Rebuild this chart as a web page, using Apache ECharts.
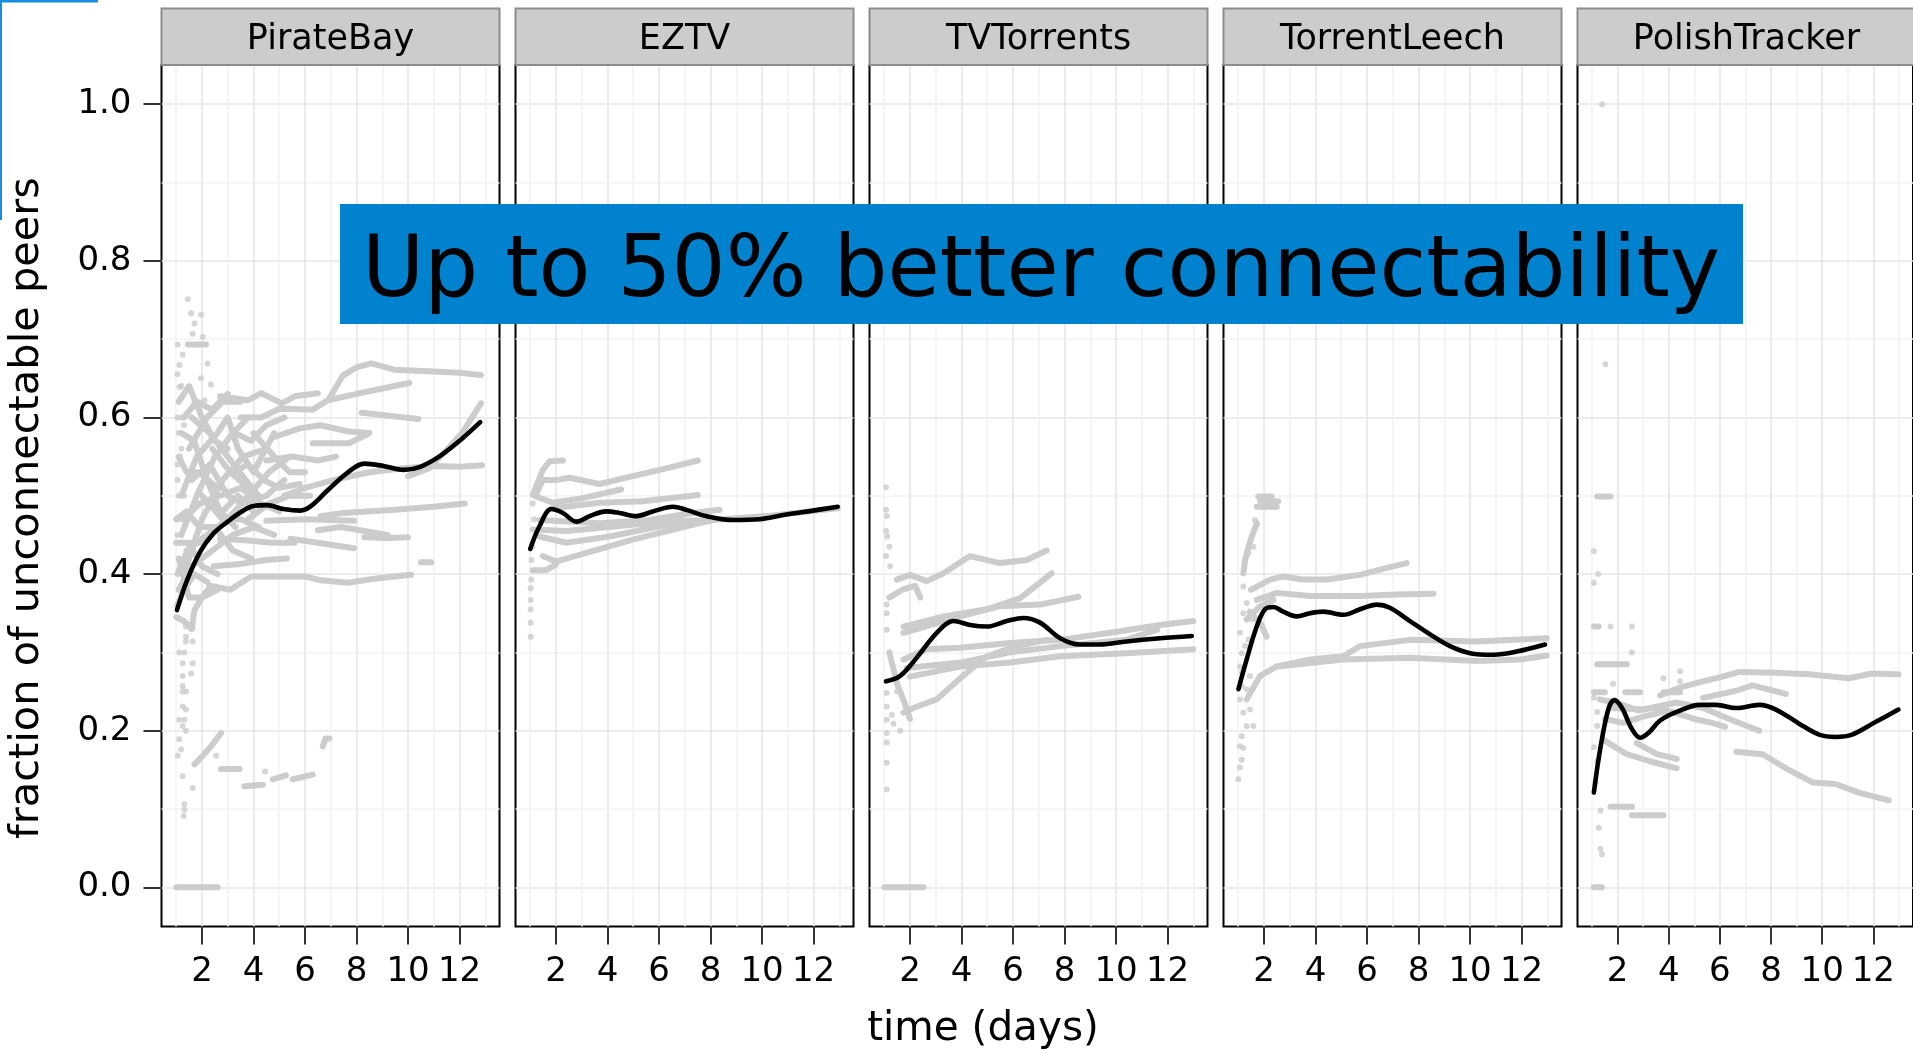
<!DOCTYPE html>
<html><head><meta charset="utf-8">
<script src="https://cdn.jsdelivr.net/npm/echarts@6/dist/echarts.min.js"></script>
<style>html,body{margin:0;padding:0;background:#fff;overflow:hidden}#c{width:1913px;height:1054px}</style>
</head><body><div id="c"></div>
<script>
// ---------- labels / ticks ----------
const panelNames = ['PirateBay', 'EZTV', 'TVTorrents', 'TorrentLeech', 'PolishTracker'];
const xTickValues = [2, 4, 6, 8, 10, 12];
const xMinorValues = [1, 3, 5, 7, 9, 11, 13];
const yTickValues = [0, 0.2, 0.4, 0.6, 0.8, 1.0];
const yMinorValues = [0.1, 0.3, 0.5, 0.7, 0.9];
const xRange = [0.43, 13.55];
const yRange = [-0.05, 1.05];
const xTitle = 'time (days)';
const yTitle = 'fraction of unconnectable peers';
const bannerText = 'Up to 50% better connectability';

// ---------- PirateBay ----------
const pbTrend = [[1.03,0.354],[1.42,0.392],[1.94,0.429],[2.45,0.452],[3.0,0.467],[3.5,0.479],[4.0,0.487],[4.52,0.488],[5.17,0.483],[5.82,0.481],[6.2,0.486],[6.85,0.506],[7.63,0.529],[8.3,0.541],[9.05,0.538],[9.83,0.533],[10.47,0.537],[11.25,0.551],[12.03,0.571],[12.8,0.594]];
const pbStreaks = [
  [[6.9,0.622],[7.46,0.653],[8.0,0.664],[8.57,0.669],[9.47,0.661],[10.76,0.659],[12.0,0.657],[12.83,0.654]],
  [[6.3,0.61],[6.88,0.622],[8.0,0.63],[9.0,0.637],[10.05,0.644]],
  [[8.2,0.606],[9.0,0.603],[10.4,0.598]],
  [[6.3,0.567],[7.1,0.567],[7.7,0.567],[8.4,0.578]],
  [[5.2,0.5],[6.0,0.51],[7.1,0.52],[8.5,0.53],[9.8,0.535],[11.0,0.538],[12.0,0.537],[12.87,0.539]],
  [[10.0,0.525],[10.8,0.535],[11.4,0.555],[12.1,0.58],[12.83,0.618]],
  [[6.6,0.474],[7.5,0.478],[9.5,0.482],[11.0,0.486],[12.2,0.49]],
  [[4.5,0.468],[6.0,0.47],[7.9,0.468]],
  [[5.43,0.445],[6.5,0.44],[7.9,0.433]],
  [[8.3,0.447],[9.2,0.446],[10.0,0.447]],
  [[2.7,0.445],[3.8,0.443],[4.7,0.44],[5.6,0.44]],
  [[2.45,0.41],[3.5,0.413],[4.5,0.418],[5.3,0.42]],
  [[2.3,0.385],[3.1,0.38],[3.91,0.397],[5.0,0.397],[5.98,0.397],[6.62,0.392],[7.66,0.389],[8.69,0.394],[10.12,0.399]],
  [[10.5,0.415],[10.9,0.415]],
  [[4.8,0.575],[5.8,0.586],[6.6,0.59],[7.7,0.582],[8.5,0.58]],
  [[4.5,0.545],[5.5,0.55],[6.5,0.545],[7.2,0.55]],
  [[3.5,0.6],[4.3,0.6],[5.0,0.611],[6.2,0.61]],
  [[2.7,0.627],[3.8,0.622],[4.3,0.631],[5.1,0.618],[5.6,0.627],[6.5,0.631]],
  [[6.5,0.456],[7.4,0.46],[8.3,0.455],[9.2,0.45]],
  [[1.2,0.45],[1.8,0.5],[2.5,0.55],[3.2,0.58],[3.8,0.6]],
  [[1.3,0.4],[2.0,0.47],[2.8,0.52],[3.6,0.55],[4.5,0.56]],
  [[1.5,0.56],[2.2,0.6],[2.8,0.62],[3.5,0.62]],
  [[1.6,0.52],[2.3,0.54],[3.0,0.5],[3.6,0.49],[4.5,0.5],[5.2,0.52]],
  [[1.4,0.43],[2.2,0.45],[3.0,0.47],[3.8,0.5],[4.6,0.53],[5.4,0.55]],
  [[1.2,0.5],[1.8,0.55],[2.6,0.58],[3.0,0.6],[3.4,0.56],[4.0,0.53],[4.8,0.58]],
  [[1.6,0.6],[2.3,0.58],[3.0,0.55],[3.7,0.52],[4.2,0.5]],
  [[1.1,0.38],[1.6,0.41],[2.4,0.43],[3.2,0.45],[4.0,0.46],[4.8,0.45]],
  [[1.3,0.47],[1.9,0.49],[2.7,0.5],[3.5,0.51],[4.3,0.49],[5.0,0.48]],
  [[2.0,0.5],[2.8,0.47],[3.5,0.47],[4.2,0.46]],
  [[2.4,0.56],[3.1,0.53],[3.8,0.51]],
  [[1.1,0.42],[1.5,0.37],[2.0,0.37],[2.6,0.38]],
  [[1.1,0.62],[1.5,0.64],[2.0,0.6],[2.5,0.57],[3.0,0.56]],
  [[1.2,0.58],[1.7,0.57],[2.2,0.52],[2.7,0.48],[3.3,0.46]],
  [[1.0,0.47],[1.4,0.48],[1.9,0.46],[2.5,0.46],[3.2,0.43],[3.9,0.42]],
  [[1.0,0.44],[1.5,0.44],[2.0,0.41],[2.6,0.4]],
  [[1.1,0.55],[1.4,0.53],[1.9,0.53],[2.6,0.51]],
  [[1.3,0.6],[1.8,0.62],[2.4,0.61],[3.0,0.63]],
  [[3.3,0.58],[3.9,0.57],[4.5,0.59],[5.2,0.6]],
  [[3.2,0.53],[3.8,0.54],[4.4,0.52],[5.0,0.51],[5.8,0.515]],
  [[2.2,0.49],[2.8,0.48],[3.4,0.5],[4.0,0.48]],
  [[4.0,0.58],[4.8,0.55],[5.4,0.53],[6.0,0.53]],
  [[3.8,0.47],[4.6,0.49],[5.4,0.5],[6.2,0.5]],
  [[1.05,0.4],[1.3,0.42],[1.6,0.44],[1.9,0.44]],
  [[1.05,0.36],[1.3,0.38],[1.7,0.4],[2.2,0.39]],
  [[1.0,0.345],[1.3,0.34],[1.6,0.33]],
  [[1.6,0.33],[1.71,0.354],[2.0,0.37],[2.35,0.385]],
  [[1.45,0.693],[2.16,0.693]],
  [[1.71,0.157],[2.03,0.168],[2.35,0.18],[2.74,0.197]],
  [[2.74,0.151],[3.46,0.151]],
  [[3.65,0.129],[4.0,0.13],[4.36,0.131]],
  [[4.75,0.138],[5.26,0.143]],
  [[5.52,0.138],[6.3,0.144]],
  [[6.69,0.18],[6.8,0.19],[6.95,0.19]],
  [[1.0,0],[2.61,0]]
];
const pbDots = [[1.45,0.751],[1.58,0.733],[1.97,0.731],[1.71,0.72],[1.64,0.707],[2.03,0.703],[1.06,0.693],[1.13,0.667],[2.22,0.669],[1.96,0.65],[2.35,0.642],[1.13,0.639],[1.19,0.625],[1.71,0.618],[2.1,0.622],[1.2,0.6],[1.1,0.58],[1.15,0.55],[1.05,0.52],[1.1,0.5],
  [1.05,0.36],[1.1,0.38],[1.2,0.41],[1.05,0.45],[1.15,0.47],[1.3,0.5],[1.05,0.54],[1.2,0.56],[1.3,0.59],[1.05,0.6],[1.2,0.64],[1.05,0.655],[1.25,0.68],
  [1.06,0.344],[1.38,0.333],[1.38,0.32],[1.64,0.314],[1.12,0.3],[1.32,0.3],[1.25,0.286],[1.64,0.286],[1.25,0.27],[1.58,0.273],[1.25,0.257],[1.25,0.25],[1.38,0.25],[1.25,0.231],[1.38,0.227],[1.12,0.214],[1.32,0.214],[1.25,0.206],[1.38,0.2],[1.12,0.189],[1.19,0.176],[1.06,0.168],[1.25,0.142],[1.64,0.127],[1.32,0.106],[1.32,0.099],[1.29,0.091],[2.55,0.168],[4.45,0.148],[1.64,0.331],[1.38,0.314]];

// ---------- EZTV ----------
const ezTrend = [[1.0,0.432],[1.36,0.461],[1.82,0.483],[2.27,0.478],[2.79,0.467],[3.31,0.474],[3.95,0.48],[4.47,0.478],[5.12,0.474],[5.76,0.48],[6.54,0.486],[7.06,0.482],[7.83,0.474],[8.87,0.469],[9.9,0.47],[10.94,0.476],[11.97,0.481],[12.94,0.486]];
const ezStreaks = [
  [[1.1,0.501],[1.49,0.533],[1.75,0.544],[2.27,0.545]],
  [[1.2,0.5],[1.49,0.52],[2.0,0.52],[2.53,0.523],[3.69,0.515],[4.98,0.525],[6.28,0.535],[7.51,0.545]],
  [[1.23,0.499],[1.88,0.491],[3.04,0.497],[4.53,0.508]],
  [[1.88,0.484],[3.69,0.491],[5.37,0.493],[7.51,0.501]],
  [[1.36,0.469],[3.69,0.465],[5.63,0.469],[7.31,0.478],[8.35,0.482]],
  [[1.1,0.457],[2.4,0.455],[4.34,0.461],[6.28,0.467],[8.1,0.469],[10.16,0.474],[12.94,0.484]],
  [[1.36,0.448],[2.4,0.44],[4.08,0.448],[6.02,0.461],[8.1,0.469]],
  [[1.49,0.423],[2.0,0.416],[3.18,0.427],[4.98,0.444],[7.05,0.461],[8.1,0.469]],
  [[1.1,0.405],[1.62,0.405],[2.0,0.412]]
];
const ezDots = [[1.04,0.393],[1.02,0.382],[1.02,0.367],[1.02,0.355],[1.02,0.338],[1.02,0.32],[1.05,0.418],[1.08,0.435],[1.15,0.47],[1.1,0.49],[1.3,0.51]];

// ---------- TVTorrents ----------
const tvTrend = [[1.07,0.263],[1.62,0.27],[2.26,0.293],[3.04,0.325],[3.69,0.34],[4.33,0.335],[4.98,0.333],[5.76,0.34],[6.4,0.344],[7.05,0.338],[7.83,0.318],[8.6,0.31],[9.38,0.31],[10.41,0.314],[11.71,0.318],[12.94,0.321]];
const tvStreaks = [
  [[1.49,0.393],[2.0,0.399],[2.65,0.391],[3.3,0.401],[4.33,0.423],[5.5,0.414],[6.53,0.418],[7.31,0.43]],
  [[1.2,0.37],[1.7,0.38],[2.2,0.385],[2.4,0.37]],
  [[1.75,0.333],[3.3,0.346],[4.98,0.355],[6.27,0.369],[7.5,0.401]],
  [[1.75,0.325],[3.95,0.346],[5.5,0.359],[7.05,0.361],[8.54,0.371]],
  [[1.75,0.291],[2.65,0.304],[3.95,0.306],[5.89,0.312],[7.83,0.316],[9.77,0.325],[11.71,0.335],[13.0,0.34]],
  [[1.88,0.28],[3.95,0.287],[5.89,0.3],[7.83,0.308],[10.4,0.316],[11.6,0.329]],
  [[2.0,0.269],[3.95,0.282],[5.89,0.287],[7.83,0.295],[10.4,0.299],[13.0,0.304]],
  [[1.75,0.223],[2.13,0.229],[3.04,0.24],[3.95,0.267],[4.98,0.295],[6.15,0.308],[7.31,0.316]],
  [[1.2,0.3],[1.5,0.26],[1.8,0.235],[2.0,0.215]],
  [[1.01,0],[2.53,0]]
];
const tvDots = [[1.07,0.511],[1.07,0.482],[1.1,0.474],[1.07,0.455],[1.12,0.448],[1.2,0.435],[1.07,0.423],[1.23,0.41],[1.1,0.361],[1.1,0.35],[1.1,0.329],[1.1,0.248],[1.1,0.231],[1.1,0.214],[1.1,0.185],[1.1,0.159],[1.1,0.125],[1.36,0.209],[1.62,0.2],[1.1,0.197],[1.3,0.22],[1.5,0.25]];

// ---------- TorrentLeech ----------
const tlTrend = [[1.01,0.253],[1.33,0.291],[1.72,0.333],[2.04,0.355],[2.37,0.358],[2.75,0.352],[3.27,0.346],[3.79,0.35],[4.31,0.352],[5.08,0.348],[5.73,0.355],[6.38,0.361],[6.89,0.357],[7.67,0.34],[8.45,0.323],[9.22,0.308],[10.0,0.299],[10.91,0.297],[11.81,0.301],[12.91,0.31]];
const tlStreaks = [
  [[1.78,0.499],[2.3,0.499]],
  [[1.85,0.493],[2.55,0.493]],
  [[1.72,0.486],[2.5,0.486]],
  [[1.72,0.465],[1.53,0.448],[1.4,0.435],[1.27,0.418],[1.2,0.401]],
  [[1.5,0.38],[2.24,0.393],[2.76,0.397],[3.5,0.393],[4.44,0.393],[5.73,0.399],[6.77,0.408],[7.54,0.414]],
  [[1.72,0.367],[2.5,0.376],[3.79,0.372],[5.73,0.372],[7.15,0.374],[8.58,0.375]],
  [[1.33,0.24],[1.85,0.27],[2.5,0.282],[3.79,0.291],[5.08,0.295],[5.73,0.308],[7.67,0.316],[10.26,0.314],[12.98,0.318]],
  [[2.5,0.282],[5.08,0.291],[7.67,0.293],[10.26,0.289],[11.94,0.291],[12.98,0.296]],
  [[1.33,0.342],[1.85,0.359],[2.37,0.367]],
  [[1.45,0.352],[1.9,0.335],[2.1,0.32]]
];
const tlDots = [[1.01,0.138],[1.07,0.153],[1.14,0.163],[1.07,0.18],[1.2,0.178],[1.14,0.193],[1.33,0.206],[1.59,0.206],[1.2,0.223],[1.07,0.24],[1.14,0.257],[1.14,0.274],[1.07,0.282],[1.14,0.299],[1.07,0.325],[1.2,0.384],[1.27,0.416],[1.4,0.427],[1.59,0.435],[1.72,0.463],[1.65,0.469],[1.46,0.227],[1.33,0.253],[1.46,0.27],[1.27,0.308],[1.4,0.316],[1.53,0.342],[1.2,0.35],[1.33,0.363]];

// ---------- PolishTracker ----------
const ptTrend = [[1.07,0.121],[1.33,0.179],[1.65,0.229],[1.87,0.239],[2.17,0.229],[2.56,0.202],[2.88,0.191],[3.2,0.197],[3.66,0.213],[4.31,0.224],[5.21,0.233],[5.86,0.233],[6.64,0.229],[7.54,0.233],[8.19,0.227],[9.1,0.209],[9.88,0.195],[10.52,0.192],[11.17,0.195],[12.08,0.211],[12.98,0.227]];
const ptStreaks = [
  [[3.66,0.245],[4.44,0.255],[5.21,0.262],[5.99,0.268],[6.77,0.275],[8.19,0.274],[9.49,0.272],[11.04,0.267],[11.95,0.273],[12.98,0.272]],
  [[5.34,0.242],[6.64,0.251],[7.28,0.258],[8.58,0.247]],
  [[1.72,0.229],[3.01,0.227],[4.31,0.236],[5.34,0.229],[6.51,0.213],[7.54,0.2]],
  [[6.64,0.173],[7.67,0.17],[8.58,0.152],[9.62,0.134],[10.52,0.132],[11.43,0.121],[12.6,0.111]],
  [[1.46,0.188],[2.36,0.17],[3.27,0.161],[4.31,0.152]],
  [[2.75,0.184],[3.53,0.17],[4.31,0.164]],
  [[1.3,0.24],[2.0,0.235],[2.8,0.226],[3.5,0.23],[4.3,0.222],[5.0,0.215],[5.7,0.21],[6.2,0.205]],
  [[1.5,0.215],[2.2,0.21],[3.0,0.218],[3.9,0.225]],
  [[1.07,0.249],[1.5,0.249]],
  [[2.3,0.249],[2.88,0.249]],
  [[3.79,0.249],[4.44,0.249]],
  [[1.2,0.285],[2.36,0.285]],
  [[1.72,0.103],[2.56,0.103]],
  [[2.56,0.092],[3.79,0.092]],
  [[1.07,0.333],[1.26,0.333]],
  [[1.2,0.499],[1.72,0.499]],
  [[1.07,0],[1.39,0]]
];
const ptDots = [[1.39,1.0],[1.52,0.668],[1.07,0.429],[1.24,0.4],[1.07,0.389],[1.72,0.333],[2.56,0.333],[2.56,0.3],[1.07,0.242],[1.2,0.224],[1.2,0.206],[1.07,0.179],[1.2,0.161],[1.14,0.134],[1.33,0.098],[1.26,0.076],[1.33,0.049],[1.39,0.042],[1.82,0.26],[3.79,0.267],[4.44,0.263],[4.44,0.276]];

const trends = [pbTrend, ezTrend, tvTrend, tlTrend, ptTrend];
const streaks = [pbStreaks, ezStreaks, tvStreaks, tlStreaks, ptStreaks];
const dots = [pbDots, ezDots, tvDots, tlDots, ptDots];

// ---------- layout / style ----------
const FONT = 'DejaVu Sans';
const panelLeft = [161.5, 515.5, 869.5, 1223.5, 1577.5];
const panelTop = 65, panelW = 338, panelH = 861.5;
const GRAY = '#cccccc';

const grid = [], xAxis = [], yAxis = [], series = [], graphic = [];
panelNames.forEach((name, i) => {
  grid.push({left: panelLeft[i], top: panelTop, width: panelW, height: panelH,
    show: true, borderColor: '#000', borderWidth: 2, backgroundColor: '#fff', containLabel: false});
  // minor x (index 2i), major x (index 2i+1)
  xAxis.push({type: 'value', gridIndex: i, min: xRange[0], max: xRange[1], position: 'top',
    axisLine: {show: false, onZero: false}, axisTick: {show: false, customValues: xMinorValues}, axisLabel: {show: false},
    splitLine: {show: true, lineStyle: {color: '#f3f3f3', width: 1.6}}});
  xAxis.push({type: 'value', gridIndex: i, min: xRange[0], max: xRange[1], position: 'bottom',
    axisLine: {show: false, onZero: false},
    axisTick: {show: true, length: 18, customValues: xTickValues, lineStyle: {color: '#333', width: 2}},
    axisLabel: {show: true, customValues: xTickValues, margin: 29, fontSize: 34, color: '#000', fontFamily: FONT},
    splitLine: {show: true, lineStyle: {color: '#e6e6e6', width: 1.6}}});
  yAxis.push({type: 'value', gridIndex: i, min: yRange[0], max: yRange[1], position: 'right',
    axisLine: {show: false, onZero: false}, axisTick: {show: false, customValues: yMinorValues}, axisLabel: {show: false},
    splitLine: {show: true, lineStyle: {color: '#f3f3f3', width: 1.6}}});
  yAxis.push({type: 'value', gridIndex: i, min: yRange[0], max: yRange[1], position: 'left',
    axisLine: {show: false, onZero: false},
    axisTick: {show: i === 0, length: 18, customValues: yTickValues, lineStyle: {color: '#333', width: 2}},
    axisLabel: {show: i === 0, customValues: yTickValues, margin: 30, fontSize: 34, color: '#000', fontFamily: FONT,
      formatter: v => v.toFixed(1)},
    splitLine: {show: true, lineStyle: {color: '#e6e6e6', width: 1.6}}});

  streaks[i].forEach(s => series.push({type: 'line', xAxisIndex: 2 * i + 1, yAxisIndex: 2 * i + 1, data: s,
    symbol: 'none', silent: true, z: 2, lineStyle: {color: GRAY, width: 6, cap: 'round', join: 'round'}}));
  series.push({type: 'scatter', xAxisIndex: 2 * i + 1, yAxisIndex: 2 * i + 1, data: dots[i],
    symbolSize: 6, silent: true, z: 2, itemStyle: {color: GRAY}});
  series.push({type: 'line', xAxisIndex: 2 * i + 1, yAxisIndex: 2 * i + 1, data: trends[i],
    smooth: 0.35, symbol: 'none', silent: true, z: 3, lineStyle: {color: '#000', width: 4.6, cap: 'round'}});

  graphic.push({type: 'rect', shape: {x: panelLeft[i], y: 8.5, width: panelW, height: panelTop - 8.5},
    style: {fill: '#cccccc', stroke: '#8c8c8c', lineWidth: 2}, z: 10});
  graphic.push({type: 'text', x: panelLeft[i] + panelW / 2, y: 39.5, z: 11,
    style: {text: name, font: '35px "DejaVu Sans"', fill: '#000', textAlign: 'center', textVerticalAlign: 'middle'}});
});

// axis titles
graphic.push({type: 'text', x: 27, y: 508, rotation: Math.PI / 2, z: 11,
  style: {text: yTitle, font: '41.5px "DejaVu Sans"', fill: '#000', textAlign: 'center', textVerticalAlign: 'middle'}});
graphic.push({type: 'text', x: 983, y: 1029, z: 11,
  style: {text: xTitle, font: '40.5px "DejaVu Sans"', fill: '#000', textAlign: 'center', textVerticalAlign: 'middle'}});
// banner
graphic.push({type: 'rect', shape: {x: 340, y: 204, width: 1403, height: 120}, style: {fill: '#0082cf'}, z: 100});
graphic.push({type: 'text', x: 362, y: 274, z: 101,
  style: {text: bannerText, font: '85px "DejaVu Sans"', fill: '#000', textAlign: 'left', textVerticalAlign: 'middle'}});
// blue frame corner
graphic.push({type: 'rect', shape: {x: 0, y: 0, width: 98, height: 2.5}, style: {fill: '#1a8de0'}, z: 100});
graphic.push({type: 'rect', shape: {x: 0, y: 0, width: 2, height: 220}, style: {fill: '#1a8de0'}, z: 100});

const chart = echarts.init(document.getElementById('c'), null, {renderer: 'canvas', width: 1913, height: 1054});
chart.setOption({
  animation: false,
  backgroundColor: '#fff',
  textStyle: {fontFamily: FONT},
  grid, xAxis, yAxis, series, graphic
});
</script></body></html>
